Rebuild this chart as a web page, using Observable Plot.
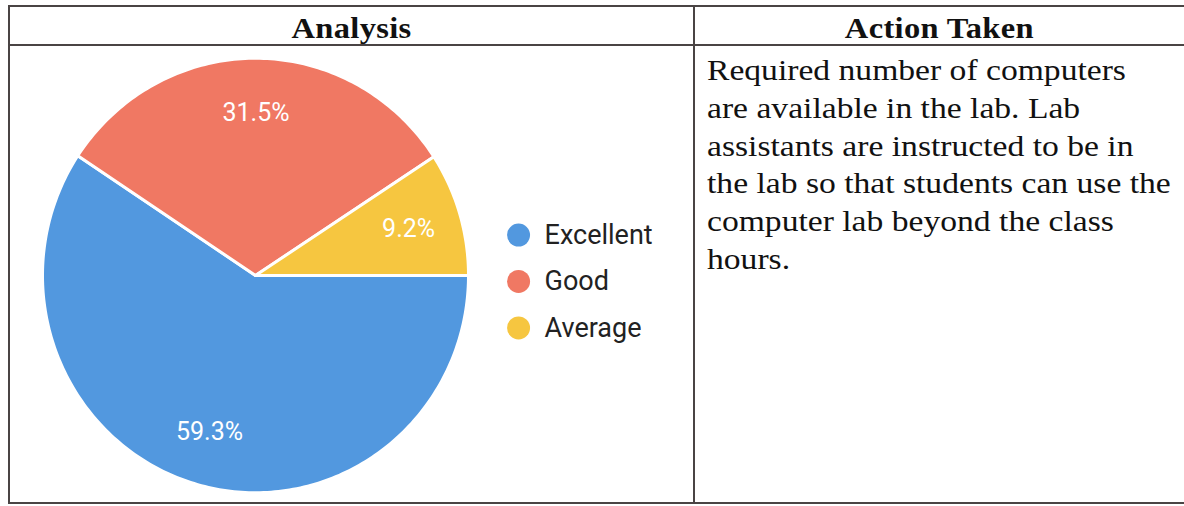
<!DOCTYPE html>
<html>
<head>
<meta charset="utf-8">
<script src="https://cdn.jsdelivr.net/npm/d3@7"></script>
<script src="https://cdn.jsdelivr.net/npm/@observablehq/plot@0.6"></script>
<style>
  html, body { margin: 0; padding: 0; background: #ffffff; }
  body { width: 1184px; height: 506px; position: relative; overflow: hidden; }
  .line { position: absolute; background: #4a4444; }
  .hdr { position: absolute; top: 10px; height: 36px; display: flex; justify-content: center; align-items: center; }
  .hdr span { display: inline-block; font-family: "Liberation Serif", "Times New Roman", serif; font-weight: bold; font-size: 29px; color: #111; transform: scaleX(1.12); letter-spacing: 0.3px; }
  .body { position: absolute; left: 707px; top: 51px; font-family: "Liberation Serif", "Times New Roman", serif; font-size: 30px; line-height: 37.8px; color: #111; transform: scaleX(1.12); transform-origin: 0 0; white-space: nowrap; }
  #chart { position: absolute; left: 12px; top: 47px; }
</style>
</head>
<body>
<div class="line" style="left:8px; top:5px; width:1176px; height:2px;"></div>
<div class="line" style="left:8px; top:44px; width:1176px; height:2px;"></div>
<div class="line" style="left:8px; top:502px; width:1176px; height:2px;"></div>
<div class="line" style="left:8px; top:5px; width:2px; height:499px;"></div>
<div class="line" style="left:693px; top:5px; width:2px; height:499px;"></div>
<div class="hdr" style="left:10px; width:683px;"><span>Analysis</span></div>
<div class="hdr" style="left:695px; width:489px;"><span>Action Taken</span></div>
<div class="body" id="action"></div>
<div id="chart"></div>
<script>
// ---- data ----
const categories = ["Excellent", "Good", "Average"];
const values = [59.3, 31.5, 9.2];
const colors = ["#5298df", "#f07863", "#f6c640"];
const labels = ["59.3%", "31.5%", "9.2%"];
const actionLines = [
  "Required number of computers",
  "are available in the lab. Lab",
  "assistants are instructed to be in",
  "the lab so that students can use the",
  "computer lab beyond the class",
  "hours."
];

document.getElementById("action").innerHTML = actionLines.join("<br>");

// ---- pie geometry (angles clockwise from 12 o'clock, starting at 3 o'clock) ----
const startAngle = 90;
const KY = 1.02; // slight vertical stretch seen in the scanned reference
const total = d3.sum(values);
let acc = startAngle;
const slices = categories.map((c, i) => {
  const a0 = acc;
  const a1 = acc + values[i] / total * 360;
  acc = a1;
  return {category: c, value: values[i], label: labels[i], a0, a1, mid: (a0 + a1) / 2};
});
const pt = (deg, r) => [Math.sin(deg * Math.PI / 180) * r, -Math.cos(deg * Math.PI / 180) * r * KY];
const features = slices.map((s) => {
  const ring = [[0, 0]];
  const n = Math.max(2, Math.ceil(s.a1 - s.a0));
  for (let k = 0; k <= n; ++k) ring.push(pt(s.a0 + (s.a1 - s.a0) * k / n, 1));
  ring.push([0, 0]);
  return {type: "Feature", properties: s, geometry: {type: "Polygon", coordinates: [ring]}};
});
const labelPos = slices.map((s) => {
  const [x, y] = pt(s.mid, 0.75);
  return {x, y, label: s.label};
});
const legend = categories.map((c, i) => ({category: c, x: 1.235, y: -0.19 + i * 0.218}));

// frame in pie-radius units
const W = 680, H = 455, R = 213, CX = 243, CY = 228;
const x0 = -CX / R, x1 = (W - CX) / R, y0 = -CY / R, y1 = (H - CY) / R;
const frame = {type: "Polygon", coordinates: [[[x0, y0], [x1, y0], [x1, y1], [x0, y1], [x0, y0]]]};

const plot = Plot.plot({
  width: W,
  height: H,
  margin: 0,
  style: {background: "transparent", overflow: "visible"},
  projection: {type: "identity", domain: frame},
  color: {domain: categories, range: colors},
  marks: [
    Plot.geo(features, {fill: (d) => d.properties.category, stroke: "white", strokeWidth: 3, strokeLinejoin: "round"}),
    Plot.text(labelPos, {x: "x", y: "y", text: "label", fill: "white", fontSize: 25, fontFamily: "Roboto, 'Liberation Sans', Arial, sans-serif"}),
    Plot.dot(legend, {x: "x", y: "y", r: 11.5, fill: "category"}),
    Plot.text(legend, {x: "x", y: "y", text: "category", dx: 26, textAnchor: "start", fill: "#222", fontSize: 27, fontFamily: "Roboto, 'Liberation Sans', Arial, sans-serif"})
  ]
});
document.getElementById("chart").appendChild(plot);
</script>
</body>
</html>
